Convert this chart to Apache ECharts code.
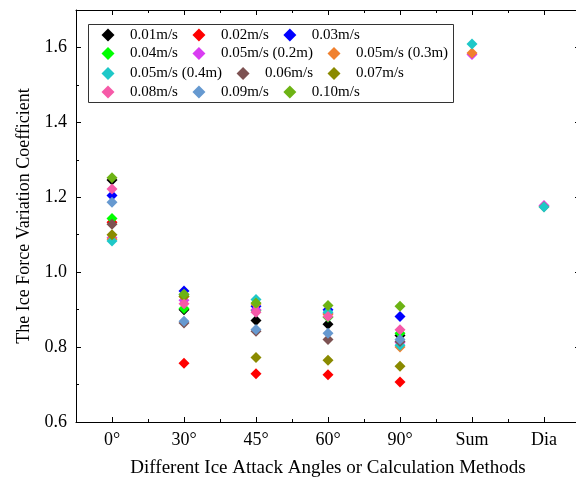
<!DOCTYPE html>
<html>
<head>
<meta charset="utf-8">
<script src="https://cdn.jsdelivr.net/npm/echarts@6/dist/echarts.min.js"></script>
<style>
  html, body { margin: 0; padding: 0; background: #fff; }
  #chart { width: 576px; height: 484px; }
</style>
</head>
<body>
<div id="chart"></div>
<script>
// categories on the x axis
const categories = ['0°', '30°', '45°', '60°', '90°', 'Sum', 'Dia']

// y tick labels
const yMajor = [0.6, 0.8, 1.0, 1.2, 1.4, 1.6]
const yMinor = [0.7, 0.9, 1.1, 1.3, 1.5]

// ice force variation coefficient per speed
const v001 = [1.246, 0.900, 0.871, 0.861, 0.831]
const v002 = [1.133, 0.757, 0.729, 0.726, 0.707]
const v003 = [1.205, 0.950, 0.909, 0.900, 0.882]
const v004 = [1.143, 0.903, 0.898, 0.880, 0.837]
const v005a = [1.092, 0.925, 0.900, 0.890, 0.812, 1.581, 1.178]
const v005b = [1.088, 0.935, 0.915, 0.888, 0.800, 1.585, 1.175]
const v005c = [1.083, 0.940, 0.927, 0.893, 0.805, 1.609, 1.174]
const v006 = [1.128, 0.864, 0.842, 0.820, 0.815]
const v007 = [1.100, 0.935, 0.772, 0.765, 0.749]
const v008 = [1.222, 0.916, 0.893, 0.882, 0.846]
const v009 = [1.187, 0.869, 0.847, 0.837, 0.820]
const v010 = [1.252, 0.941, 0.918, 0.911, 0.909]

const seriesList = [
  { name: '0.01m/s', values: v001, color: '#000000' },
  { name: '0.02m/s', values: v002, color: '#ff0000' },
  { name: '0.03m/s', values: v003, color: '#0000ff' },
  { name: '0.04m/s', values: v004, color: '#00ff00' },
  { name: '0.05m/s (0.2m)', values: v005a, color: '#d93cf2' },
  { name: '0.05m/s (0.3m)', values: v005b, color: '#f0802e' },
  { name: '0.05m/s (0.4m)', values: v005c, color: '#1ec8c8' },
  { name: '0.06m/s', values: v006, color: '#7d5252' },
  { name: '0.07m/s', values: v007, color: '#8a8a00' },
  { name: '0.08m/s', values: v008, color: '#f65aa8' },
  { name: '0.09m/s', values: v009, color: '#6699d0' },
  { name: '0.10m/s', values: v010, color: '#6db314' }
]

const font = 'Liberation Serif'
const xMajor = categories.map((c, i) => i + 1)
const xMinor = categories.slice(1).map((c, i) => i + 1.5)

function xAxis(pos, ticks, len, main) {
  return {
    type: 'value',
    position: pos,
    min: 0.5,
    max: 7.5,
    interval: 0.5,
    axisLine: { show: !!main, onZero: false, lineStyle: { color: '#000', width: 1 } },
    axisTick: { inside: true, length: len, customValues: ticks, lineStyle: { color: '#000' } },
    axisLabel: main === 'label' ? {
      customValues: xMajor,
      formatter: (v) => categories[Math.round(v) - 1],
      color: '#000', fontFamily: font, fontSize: 18, margin: 9
    } : { show: false },
    splitLine: { show: false }
  }
}

function yAxis(pos, ticks, len, main) {
  return {
    type: 'value',
    position: pos,
    min: 0.6,
    max: 1.7,
    interval: 0.1,
    axisLine: { show: !!main, onZero: false, lineStyle: { color: '#000', width: 1 } },
    axisTick: { inside: true, length: len, customValues: ticks, lineStyle: { color: '#000' } },
    axisLabel: main === 'label' ? {
      customValues: yMajor,
      formatter: (v) => v.toFixed(1),
      color: '#000', fontFamily: font, fontSize: 18, margin: 9
    } : { show: false },
    splitLine: { show: false }
  }
}

const xAxes = [
  xAxis('bottom', xMajor, 5, 'label'),
  xAxis('bottom', xMinor, 3),
  xAxis('top', xMajor, 5, 'line'),
  xAxis('top', xMinor, 3)
]
Object.assign(xAxes[0], {
  name: 'Different Ice Attack Angles or Calculation Methods',
  nameLocation: 'middle',
  nameGap: 37,
  nameTextStyle: { fontFamily: font, fontSize: 19, color: '#000' }
})

const yAxes = [
  yAxis('left', yMajor, 5, 'label'),
  yAxis('left', yMinor, 3),
  yAxis('right', yMajor, 5, 'line'),
  yAxis('right', yMinor, 3)
]
Object.assign(yAxes[0], {
  name: 'The Ice Force Variation Coefficient',
  nameLocation: 'middle',
  nameGap: 31,
  nameTextStyle: { fontFamily: font, fontSize: 18, color: '#000' }
})

// legend rows, laid out left to right as in the figure
const legendRows = [
  ['0.01m/s', '0.02m/s', '0.03m/s'],
  ['0.04m/s', '0.05m/s (0.2m)', '0.05m/s (0.3m)'],
  ['0.05m/s (0.4m)', '0.06m/s', '0.07m/s'],
  ['0.08m/s', '0.09m/s', '0.10m/s']
]
const legendTop = [27.5, 46, 66, 84.5]

const option = {
  animation: false,
  grid: { left: 76, top: 10, width: 504, height: 412, containLabel: false, outerBoundsMode: 'none' },
  xAxis: xAxes,
  yAxis: yAxes,
  legend: legendRows.map((names, r) => ({
    orient: 'horizontal',
    left: 101.5,
    top: legendTop[r],
    padding: 0,
    itemWidth: 13,
    itemHeight: 13,
    itemGap: 14.5,
    icon: 'diamond',
    selectedMode: false,
    data: names,
    textStyle: { fontFamily: font, fontSize: 15, color: '#000', lineHeight: 15, padding: [0, 0, 0, 10.5] }
  })),
  graphic: [{
    type: 'rect',
    shape: { x: 88.5, y: 24.5, width: 365, height: 78 },
    style: { fill: 'none', stroke: '#333', lineWidth: 1 },
    z: 0
  }],
  series: seriesList.map(s => ({
    name: s.name,
    type: 'scatter',
    symbol: 'diamond',
    symbolSize: 11,
    itemStyle: { color: s.color, opacity: 1 },
    emphasis: { disabled: true },
    data: s.values.map((v, i) => [i + 1, v])
  }))
}

const chart = echarts.init(document.getElementById('chart'))
chart.setOption(option)
</script>
</body>
</html>
